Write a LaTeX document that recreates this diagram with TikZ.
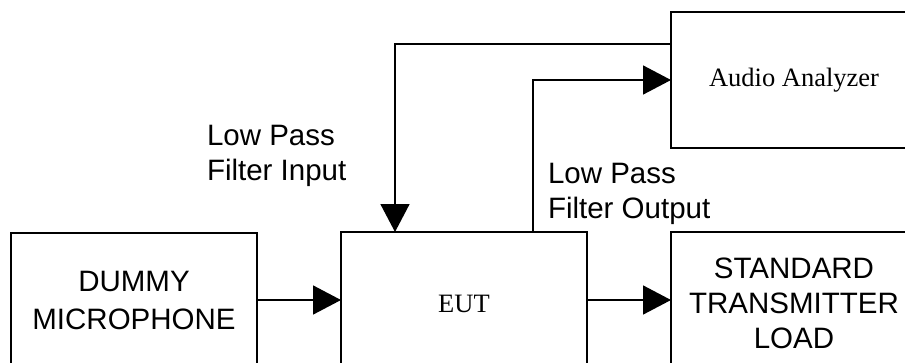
\documentclass[tikz,border=0pt]{standalone}
\usepackage{fontspec}
\setmainfont{Liberation Serif}
\setsansfont{Liberation Sans}
\usetikzlibrary{arrows.meta}
\begin{document}
\begin{tikzpicture}[x=1pt,y=-1pt,line width=1.6pt,
  box/.style={draw,rectangle,inner sep=0pt,outer sep=0pt,anchor=north west,align=center,minimum width=246pt},
  sansbig/.style={font=\sffamily\fontsize{29.5}{35}\selectfont},
  sansmic/.style={font=\sffamily\fontsize{29.5}{38}\selectfont},
  serifbig/.style={font=\rmfamily\fontsize{26.5}{32}\selectfont},
  lbl/.style={inner sep=0pt,outer sep=0pt,anchor=north west,align=left,font=\sffamily\fontsize{29.5}{35}\selectfont},
  arr/.style={-{Triangle[length=28pt,width=29pt]}}]
\useasboundingbox (0,0) rectangle (905,362);
\clip (0,0) rectangle (905,362);
\node[box,sansmic,minimum height=134pt] (mic) at (11,233) {DUMMY\\MICROPHONE};
\node[box,serifbig,minimum height=144pt] (eut) at (341,232) {EUT};
\node[box,sansbig,minimum height=142pt] (load) at (671,232) {STANDARD\\TRANSMITTER\\LOAD};
\node[box,serifbig,minimum height=136pt] (an) at (671,12) {Audio Analyzer};
\node[lbl] (lin) at (207,125) {Low Pass\\Filter Input};
\node[lbl] (lout) at (548,163) {Low Pass\\Filter Output};
\coordinate (inTap) at (395,44);
\coordinate (outTap) at (533,80);
\draw[arr] (mic.east) -- (mic.east -| eut.west);
\draw[arr] (mic.east -| eut.east) -- (mic.east -| load.west);
\draw[arr] (inTap -| an.west) -- (inTap) -- (inTap |- eut.north);
\draw[arr] (outTap |- eut.north) -- (outTap) -- (outTap -| an.west);
\end{tikzpicture}
\end{document}
